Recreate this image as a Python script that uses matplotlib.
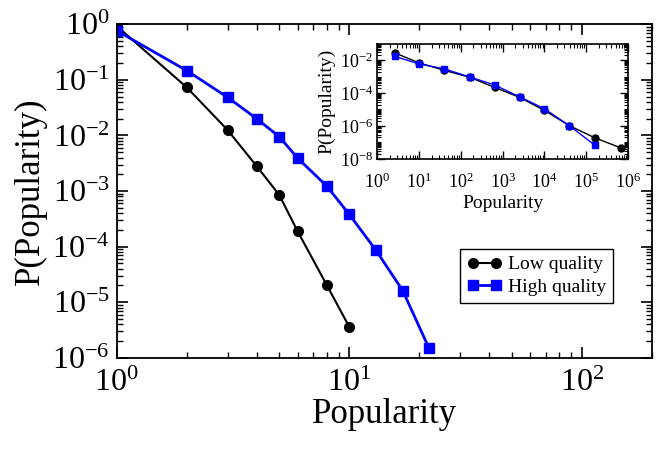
import matplotlib
matplotlib.use('Agg')
import matplotlib.pyplot as plt
from matplotlib.ticker import LogLocator, NullFormatter

plt.rcParams['font.family'] = 'Liberation Serif'
plt.rcParams['mathtext.fontset'] = 'stix'

# main plot data
low_x = [1, 2, 3, 4, 5, 6, 8, 10]
low_y = [0.93, 0.0735, 0.0125, 0.0028, 8.5e-4, 1.88e-4, 2.04e-5, 3.6e-6]
high_x = [1, 2, 3, 4, 5, 6, 8, 10, 13, 17, 22]
high_y = [0.77, 0.147, 0.0485, 0.020, 0.0095, 3.9e-3, 1.23e-3, 3.8e-4,
          8.7e-5, 1.6e-5, 1.5e-6]

# inset data
in_low_x = [2.6, 10, 40, 162, 640, 2530, 1.0e4, 3.9e4, 1.6e5, 6.6e5]
in_low_y = [0.028, 6.8e-3, 2.4e-3, 9.1e-4, 2.2e-4, 5.5e-5, 8.7e-6,
            1.05e-6, 1.9e-7, 4.7e-8]
in_high_x = [2.6, 10, 40, 162, 640, 2530, 1.0e4, 3.9e4, 1.6e5]
in_high_y = [0.017, 5.9e-3, 2.95e-3, 9.5e-4, 3.1e-4, 5.9e-5, 1.1e-5,
             1.05e-6, 6.8e-8]

fig = plt.figure(figsize=(6.64, 4.5), dpi=100)
ax = fig.add_axes([0.1757, 0.205, 0.806, 0.741])

ax.plot(low_x, low_y, '-o', color='black', lw=1.5, ms=7, label='Low quality')
ax.plot(high_x, high_y, '-s', color='blue', lw=2, ms=7, label='High quality')
ax.set_xscale('log')
ax.set_yscale('log')
ax.set_xlim(1, 200)
ax.set_ylim(1e-6, 1)
ax.set_xlabel('Popularity', fontsize=25, labelpad=0)
ax.set_ylabel('P(Popularity)', fontsize=25, labelpad=4)
ax.yaxis.set_major_locator(LogLocator(base=10, numticks=10))
ax.yaxis.set_minor_locator(LogLocator(base=10, subs=range(2, 10), numticks=20))
ax.yaxis.set_minor_formatter(NullFormatter())
ax.tick_params(which='both', direction='in', top=True, right=True, labelsize=23)
ax.tick_params(which='major', length=8, width=1.2)
ax.tick_params(which='minor', length=4, width=1)
ax.tick_params(axis='x', pad=8)
ax.tick_params(axis='y', pad=5)
for s in ax.spines.values():
    s.set_linewidth(1.3)

leg = ax.legend(loc='lower right', bbox_to_anchor=(0.927, 0.165), fontsize=14,
                numpoints=2, fancybox=False, edgecolor='black', framealpha=1,
                handlelength=1.8, handletextpad=0.3, borderpad=0.35,
                labelspacing=0.25, borderaxespad=0)
leg.get_frame().set_linewidth(1)

# inset
ins = fig.add_axes([0.568, 0.647, 0.378, 0.256])
ins.plot(in_low_x, in_low_y, '-o', color='black', lw=1, ms=5)
ins.plot(in_high_x, in_high_y, '-s', color='blue', lw=1, ms=5)
ins.set_xscale('log')
ins.set_yscale('log')
ins.set_xlim(1, 1e6)
ins.set_ylim(1e-8, 1e-1)
ins.set_yticks([1e-2, 1e-4, 1e-6, 1e-8])
ins.yaxis.set_minor_locator(LogLocator(base=10, subs=range(1, 10), numticks=20))
ins.yaxis.set_minor_formatter(NullFormatter())
ins.xaxis.set_major_locator(LogLocator(base=10, numticks=10))
ins.xaxis.set_minor_locator(LogLocator(base=10, subs=range(2, 10), numticks=20))
ins.xaxis.set_minor_formatter(NullFormatter())
ins.set_xlabel('Popularity', fontsize=14, labelpad=2)
ins.set_ylabel('P(Popularity)', fontsize=14, labelpad=3)
ins.tick_params(which='both', direction='in', top=True, right=True, labelsize=13)
ins.tick_params(which='major', length=6, width=1)
ins.tick_params(which='minor', length=3, width=0.8)
ins.tick_params(axis='x', pad=10)
ins.tick_params(axis='y', pad=3)
for s in ins.spines.values():
    s.set_linewidth(1.2)

fig.savefig('out.png', dpi=100)
